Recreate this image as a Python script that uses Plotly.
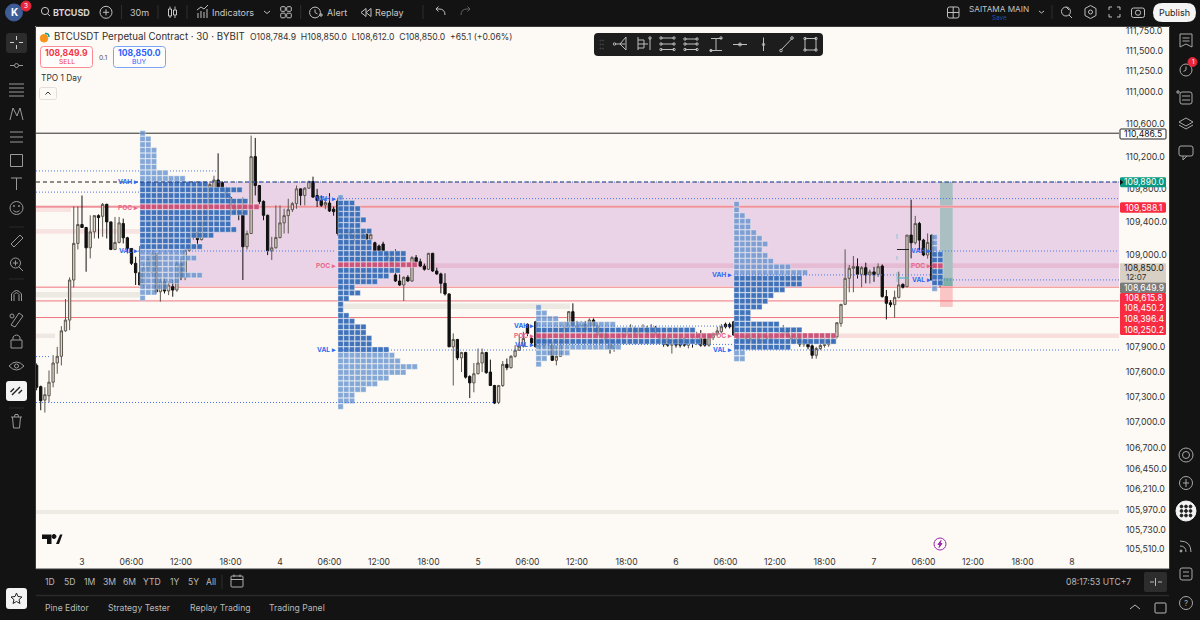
import math
from datetime import datetime, timedelta
import plotly.graph_objects as go

# ---------------- data ----------------
bar_start = datetime(2025, 7, 2, 18, 30)
opens = [
 107677,107424,107264,107316,107477,107706,107786,108091,108220,108702,
 109144,109373,109337,109091,109284,109481,109473,109618,109405,109071,
 109156,109385,109212,109083,108903,108790,108642,108850,108790,109020,
 108560,108680,108570,108622,108581,108900,108730,109060,109220,109280,
 109190,109400,109600,109807,109915,109883,109807,109700,109600,109540,
 109525,109104,109264,110200,109847,109654,109485,109055,109091,109216,
 109393,109481,109553,109626,109807,109726,109815,109895,109726,109666,
 109610,109634,109560,109658,109265,109230,109280,109240,109220,109270,
 109257,109196,109152,109112,109136,109030,108960,108763,108690,108642,
 108735,108690,108972,108923,108871,108831,109024,108811,108775,108662,
 108534,107899,107987,107767,107831,107545,107469,107578,107706,107831,
 107598,107437,107236,107437,107690,107650,107786,107859,107907,108168,
 107999,108200,107899,108010,107920,107920,107738,107786,107960,108130,
 108321,108150,108120,108170,108110,108220,108148,108040,108060,107990,
 107880,107960,108020,108060,108090,108110,108060,108090,108120,108060,
 108130,108050,108000,107999,107919,107980,107999,107999,107919,107990,
 107960,107999,107999,107919,108010,108050,108080,108170,108168,108200,
 108040,107990,108030,108000,107980,108020,107990,108030,108000,107980,
 108020,108040,108090,108030,107990,108010,107930,107980,107911,107798,
 107879,107915,107925,107960,108019,108180,108409,108722,108843,108863,
 108771,108851,108763,108800,108770,108871,108502,108429,108405,108493,
 108650,108622,109245,109152,109385,109184,109004,109245,108702,108784.9]
highs = [
 107700,107436,107416,107617,107800,107898,108147,108473,108734,109594,
 109594,109726,109345,109485,109485,109497,109634,109626,109405,109465,
 109465,109445,109224,109083,108983,109112,108900,109000,109060,109020,
 108730,108720,108690,108702,108930,108960,109100,109240,109300,109300,
 109420,109620,109880,109967,110240,109900,109830,109720,109650,109560,
 109700,109300,110457,110429,109847,109666,109493,109224,109606,109606,
 109565,109686,109646,109847,109807,109827,109907,109955,109807,109726,
 109700,109754,109590,109700,109330,109320,109340,109300,109300,109290,
 109270,109270,109165,109130,109165,109040,109030,109072,108770,108745,
 108760,108990,109004,108960,108900,109030,109030,108850,108790,108783,
 108540,108060,107995,107840,107840,107560,107706,107879,107879,107840,
 107746,107445,107445,107730,107760,107800,107919,108040,108080,108180,
 108020,108210,108050,108100,108050,107960,107900,108000,108200,108330,
 108421,108210,108210,108210,108240,108240,108170,108100,108110,108050,
 108000,108060,108100,108130,108170,108140,108130,108170,108150,108170,
 108150,108100,108070,108040,108010,108010,108020,108020,108020,108020,
 108080,108100,108030,108040,108070,108140,108172,108190,108190,108210,
 108090,108060,108070,108060,108050,108070,108060,108080,108060,108050,
 108080,108160,108120,108070,108050,108040,108000,108000,107930,107900,
 108000,108000,108000,108010,108190,108409,109072,108883,108992,108963,
 108870,108911,108830,108860,108903,108890,108582,108460,108574,108803,
 108660,109245,109675,109478,109405,109200,109265,109250,108900,108850]
lows = [
 107380,107143,107115,107236,107416,107577,107677,108079,108099,108613,
 109071,109333,108802,108963,109204,109204,109224,109204,109063,109063,
 109144,109144,109023,108883,108642,108640,108600,108780,108740,108540,
 108441,108540,108520,108501,108560,108700,108700,109040,109190,109130,
 109180,109380,109580,109780,109807,109780,109640,109480,109490,109425,
 108702,109070,109264,109726,109620,109425,109003,108943,109083,109204,
 109264,109264,109525,109565,109606,109606,109807,109698,109586,109586,
 109560,109525,109480,109240,109200,109170,109200,109170,109190,109200,
 109190,109190,109050,109050,109050,108950,108880,108680,108630,108449,
 108680,108680,108915,108860,108815,108825,108800,108765,108542,108515,
 107899,107437,107740,107598,107520,107288,107357,107570,107598,107578,
 107437,107216,107216,107420,107620,107640,107770,107850,107890,108030,
 107930,107890,107860,107880,107800,107730,107678,107780,107940,108120,
 108130,108080,108040,108050,108090,108080,108020,107990,107960,107818,
 107840,107920,107980,108030,108060,108040,108020,108060,108040,108040,
 108020,108000,107900,107900,107818,107890,107890,107900,107880,107890,
 107920,107900,107900,107900,107980,108030,108060,108120,108120,108030,
 107960,107940,107970,107950,107930,107970,107950,107980,107960,107950,
 107970,108000,108010,107970,107950,107899,107899,107870,107758,107758,
 107860,107890,107900,107935,108000,108140,108400,108554,108554,108720,
 108614,108662,108660,108680,108740,108490,108228,108375,108248,108481,
 108600,108614,108963,109130,109064,108990,108960,108700,108650,108612]
closes = [
 107416,107256,107328,107477,107706,107786,108091,108220,108702,109144,
 109373,109337,109091,109284,109481,109457,109618,109405,109071,109156,
 109393,109212,109083,108903,108790,108642,108850,108950,109020,108560,
 108680,108570,108640,108581,108900,108730,109060,109220,109280,109190,
 109400,109600,109860,109915,109827,109807,109700,109600,109540,109500,
 109104,109264,110200,109847,109654,109485,109055,109091,109216,109393,
 109481,109553,109626,109807,109726,109815,109895,109706,109666,109606,
 109640,109537,109530,109265,109230,109280,109240,109220,109270,109230,
 109196,109250,109056,109056,109056,108960,108900,108690,108642,108735,
 108690,108972,108923,108871,108831,109024,108811,108775,108662,108534,
 107899,107987,107767,107831,107537,107469,107578,107706,107831,107590,
 107437,107228,107437,107690,107650,107786,107859,107907,108000,108060,
 107947,107899,108010,107920,107970,107738,107786,107960,108130,108321,
 108150,108120,108170,108100,108220,108148,108040,108060,107990,107880,
 107960,108020,108060,108090,108110,108060,108090,108120,108060,108130,
 108050,108000,107930,107919,107980,107920,107919,107919,107990,107960,
 108030,107919,107919,108010,108050,108090,108140,108140,108140,108040,
 107990,108030,108000,107980,108020,107990,108030,108000,107980,108020,
 108040,108090,108030,107990,108010,107930,107980,107900,107798,107879,
 107915,107925,107960,107990,108188,108409,108722,108843,108863,108771,
 108851,108763,108800,108770,108863,108502,108421,108405,108493,108642,
 108614,109245,109152,109385,109184,109004,109156,108702,108785,108850]

tpo1_start = "2025-07-03 07:00"
tpo1_prices = [110485,110416,110347,110278,110209,110140,110071,110002,109933,109864,109795,109726,109657,109588,109519,109450,109381,109312,109243,109174,109105,109036,108967,108898,108829,108760,108691,108622,108553,108484]
tpo1_counts = [1,2,2,3,3,3,3,5,8,12,18,16,19,21,19,16,16,17,13,9,11,8,10,8,8,11,7,5,3,1]
tpo2_start = "2025-07-04 07:00"
tpo2_prices = [109702,109634,109566,109498,109430,109362,109294,109226,109158,109090,109022,108954,108886,108818,108750,108682,108614,108546,108478,108410,108342,108274,108206,108138,108070,108002,107934,107866,107798,107730,107662,107594,107526,107458,107390,107322,107254,107186]
tpo2_counts = [1,3,4,4,5,4,6,5,6,6,12,12,14,11,9,7,3,4,2,1,1,2,3,5,5,6,6,9,10,11,14,12,9,7,5,3,3,1]
tpo3_start = "2025-07-05 07:00"
tpo3_prices = [108372,108304,108236,108168,108100,108032,107964,107896,107828,107760,107692]
tpo3_counts = [1,2,4,14,28,31,29,15,6,2,1]
tpo4_start = "2025-07-06 07:00"
tpo4_prices = [109620,109551,109482,109413,109344,109275,109206,109137,109068,108999,108930,108861,108792,108723,108654,108585,108516,108447,108378,108309,108240,108171,108102,108033,107964,107895,107826,107757]
tpo4_counts = [1,1,2,3,3,4,5,6,5,6,7,10,13,12,12,9,7,6,5,3,3,8,12,18,18,10,2,2]
tpo5_start = "2025-07-07 07:00"
tpo5_prices = [109219,109150,109081,109012,108943,108874,108805,108736,108667,108598]
tpo5_counts = [1,1,1,2,2,2,2,2,2,1]

price_ticks = [111750,111500,111250,111000,110600,110200,109800,109400,109000,107900,107600,107300,107000,106700,106450,106210,105970,105730,105510]
time_ticks = ["2025-07-03 00:00","2025-07-03 06:00","2025-07-03 12:00","2025-07-03 18:00","2025-07-04 00:00","2025-07-04 06:00","2025-07-04 12:00","2025-07-04 18:00","2025-07-05 00:00","2025-07-05 06:00","2025-07-05 12:00","2025-07-05 18:00","2025-07-06 00:00","2025-07-06 06:00","2025-07-06 12:00","2025-07-06 18:00","2025-07-07 00:00","2025-07-07 06:00","2025-07-07 12:00","2025-07-07 18:00","2025-07-08 00:00"]
time_labels = ["3","06:00","12:00","18:00","4","06:00","12:00","18:00","5","06:00","12:00","18:00","6","06:00","12:00","18:00","7","06:00","12:00","18:00","8"]

level_high = 110486.5
level_zone_top = 109890.0
level_zone_bottom = 108630.0
level_poc_a = 109588.1
level_red = [108615.8, 108450.2, 108250.2]

# ---------------- geometry ----------------
W, H = 1200, 620
L, R, T, B = 36, 1119, 27, 552
CREAM = "#fdfaf5"; CHROME = "#131313"
FONT = "Inter"
def px(x): return (x - L) / (R - L)
def py(y): return 1 - (y - T) / (B - T)
shapes, notes = [], []
times = [bar_start + timedelta(minutes=30 * i) for i in range(len(opens))]

def rect(x0, y0, x1, y1, fill, line=None, lw=1, layer="above"):
    shapes.append(dict(type="rect", xref="paper", yref="paper", x0=px(x0), x1=px(x1), y0=py(y0), y1=py(y1),
                       fillcolor=fill, line=dict(color=line or "rgba(0,0,0,0)", width=lw if line else 0), layer=layer))
def path(d, color="#b8b8b8", lw=1, fill=None, layer="above"):
    out = []
    for tok in d:
        if isinstance(tok, str): out.append(tok)
        else: out.append(f"{px(tok[0]):.5f},{py(tok[1]):.5f}")
    shapes.append(dict(type="path", xref="paper", yref="paper", path=" ".join(out),
                       line=dict(color=color, width=lw), fillcolor=fill or "rgba(0,0,0,0)", layer=layer))
def seg(x0, y0, x1, y1, color="#b8b8b8", lw=1):
    shapes.append(dict(type="line", xref="paper", yref="paper", x0=px(x0), x1=px(x1), y0=py(y0), y1=py(y1),
                       line=dict(color=color, width=lw), layer="above"))
def circ(cx, cy, r, line="#b8b8b8", fill=None, lw=1):
    shapes.append(dict(type="circle", xref="paper", yref="paper", x0=px(cx-r), x1=px(cx+r), y0=py(cy-r), y1=py(cy+r),
                       line=dict(color=line, width=lw), fillcolor=fill or "rgba(0,0,0,0)", layer="above"))
def rrect(x0, y0, x1, y1, r, fill=None, line=None, lw=1):
    d = ["M",(x0+r,y0),"L",(x1-r,y0),"Q",(x1,y0),(x1,y0+r),"L",(x1,y1-r),"Q",(x1,y1),(x1-r,y1),
         "L",(x0+r,y1),"Q",(x0,y1),(x0,y1-r),"L",(x0,y0+r),"Q",(x0,y0),(x0+r,y0),"Z"]
    path(d, color=line or "rgba(0,0,0,0)", lw=lw if line else 0, fill=fill)
def txt(x, y, s, size=9, color="#c8c8c8", anchor="center", bold=False, font=FONT):
    notes.append(dict(xref="paper", yref="paper", x=px(x), y=py(y), text=f"<b>{s}</b>" if bold else s, showarrow=False,
                      xanchor=anchor, yanchor="middle", font=dict(size=size, color=color, family=font), borderpad=0, borderwidth=0))

# level helpers (prices through the y axis)
def band(x0, x1, p0, p1, fill, layer="below"):
    shapes.append(dict(type="rect", xref="paper", yref="y", x0=px(x0), x1=px(x1), y0=p0, y1=p1,
                       fillcolor=fill, line=dict(width=0), layer=layer))
def level(x0, x1, p, color, lw=1, dash="solid", layer="below"):
    shapes.append(dict(type="line", xref="paper", yref="y", x0=px(x0), x1=px(x1), y0=p, y1=p,
                       line=dict(color=color, width=lw, dash=dash), layer=layer))

band(140, R, level_zone_bottom, level_zone_top, "#ead3e6")
band(418, R, 108847, 108903, "#e6bcd4")
band(36, 71, 109525, 109585, "#f8e3e1")
band(36, 180, 109261, 109318, "#f7e4e2")
band(36, 140, 108492, 108558, "#ece9e3")
band(36, 55, 108005, 108058, "#efe8e2")
band(343, 570, 108353, 108420, "#ece9e3")
band(838, R, 108005, 108058, "#f8dfdd")
band(940, 952.7, 108730, level_zone_top, "#a9bfc2")
band(940, 952.7, level_zone_bottom, 108730, "#7eb0a8")
band(940, 952.7, 108378, level_zone_bottom, "#f9c5c5")
band(36, R, 105916, 105963, "#eeebe5")

level(36, R, level_high, "#2b2b2b", 1)
level(36, R, level_poc_a, "#f3bcc0", 2.4)
level(36, R, level_poc_a, "#ef7f88", 1)
for p in level_red:
    level(36, R, p, "#f0747e", 1)
BL = "#4a78ea"
level(36, 140, level_zone_top, "#1e1e1e", 1, "4px,3px", "above")
level(140, R, level_zone_top, "#1f2f58", 1, "4px,3px", "above")
for x0, x1, p in [(36,140,110025),(170,216,110025),(36,140,109767),(140,R,109890),(334,R,109688),(123,336,109052),
                  (930,R,109052),(734,932,108763),(932,R,108703),(340,536,107861),(734,R,107861),(36,495,107235),
                  (536,735,108148),(536,735,107928),(36,49,107783)]:
    level(x0, x1, p, BL, 1, "1px,2px", "above")

fig = go.Figure()
fig.add_trace(go.Candlestick(x=times, open=opens, high=highs, low=lows, close=closes,
    increasing=dict(line=dict(color="#5c574f", width=1), fillcolor="#ddd6ca"),
    decreasing=dict(line=dict(color="#111111", width=1), fillcolor="#111111"),
    whiskerwidth=0, showlegend=False, hoverinfo="skip"))

DARK = "rgba(58,110,186,0.97)"; LIGHT = "rgba(100,146,208,0.8)"; POC = "rgba(202,80,120,0.97)"
CELL_MIN = 41.45
def tpo(start, prices, counts, d0, d1, poc):
    t0 = datetime.strptime(start, "%Y-%m-%d %H:%M")
    xs, ys, cs = [], [], []
    for i, (p, c) in enumerate(zip(prices, counts)):
        col = POC if i == poc else (DARK if d0 <= i <= d1 else LIGHT)
        for k in range(c):
            xs.append(t0 + timedelta(minutes=CELL_MIN * (k + 0.5))); ys.append(p); cs.append(col)
    fig.add_trace(go.Scatter(x=xs, y=ys, mode="markers", showlegend=False, hoverinfo="skip",
                             marker=dict(symbol="square", size=5.3, color=cs, line=dict(width=0.5, color="rgba(253,250,245,0.8)"))))
tpo(tpo1_start, tpo1_prices, tpo1_counts, 9, 20, 13)
tpo(tpo2_start, tpo2_prices, tpo2_counts, 1, 27, 12)
tpo(tpo3_start, tpo3_prices, tpo3_counts, 4, 6, 5)
tpo(tpo4_start, tpo4_prices, tpo4_counts, 13, 25, 23)
tpo(tpo5_start, tpo5_prices, tpo5_counts, 3, 8, 5)

# TPO labels
VB = "#2f6bf0"; VP = "#e8688a"
for x, y, s, c in [(138,182.5,"VAH ▸",VB),(138,208.5,"POC ▸",VP),(138,251,"VAL ▸",VB),
                   (336,199,"VAH ▸",VB),(336,265.7,"POC ▸",VP),(336,350,"VAL ▸",VB),
                   (534,326,"VAH ▸",VB),(534,335.7,"POC ▸",VP),(534,344.5,"VAL ▸",VB),
                   (732,274.5,"VAH ▸",VB),(732,335.7,"POC ▸",VP),(732,350,"VAL ▸",VB),
                   (931,251,"VAH ▸",VB),(931,265.7,"POC ▸",VP),(931,280,"VAL ▸",VB)]:
    txt(x, y, s, 6.6, c, "right", True)

# small drawing marks near the last bars
seg(897, 249.5, 909, 249.5, "#222222", 1)
seg(897, 278, 909, 278, "#4fb7c4", 1.2)
seg(897, 234, 897, 239, "#8fc4d0", 1); seg(897, 256, 897, 260, "#8fc4d0", 1); seg(897, 272, 897, 282, "#8fc4d0", 1)

# ---------------- application frame ----------------
rect(0, 0, W, 26, CHROME); rect(0, 0, 35, H, CHROME); rect(1169.5, 0, W, H, CHROME)
rect(0, 569, W, H, CHROME)
seg(36, 595.5, 1169, 595.5, "#2a2a2a", 1.4)
seg(35.5, 26.5, 35.5, 569, "#3a3a3a", 1); seg(36, 26.5, 1169, 26.5, "#3a3a3a", 1); seg(36, 569, 1169, 569, "#3a3a3a", 1); seg(1169.5, 26.5, 1169.5, 569, "#3a3a3a", 1)

# top bar
circ(14, 12.5, 8.5, line="#3e5c96", fill="#3e5c96"); txt(14, 12.5, "K", 10, "#ffffff", bold=True)
circ(26, 6, 5, line="#e8263a", fill="#e8263a"); txt(26, 6, "3", 6.5, "#ffffff")
circ(45, 11, 3.6, line="#c8c8c8"); seg(47.6, 13.7, 50, 16, "#c8c8c8")
txt(53, 12.3, "BTCUSD", 9, "#d6d6d6", "left", True)
circ(106, 12.3, 6, line="#c0c0c0"); seg(103, 12.3, 109, 12.3, "#c0c0c0"); seg(106, 9.3, 106, 15.3, "#c0c0c0")
for x in (121.5, 158, 187, 300.7, 423, 1052):
    seg(x, 5, x, 19, "#2e2e2e", 1)
txt(139.7, 12.5, "30m", 9, "#c8c8c8")
for x, y0, y1 in [(170, 9, 16), (175, 10, 15)]:
    rect(x-1.5, y0, x+1.5, y1, "rgba(0,0,0,0)", "#c8c8c8"); seg(x, 6.5, x, y0); seg(x, y1, x, 18)
path(["M",(198,18),"L",(198,13),"M",(201,18),"L",(201,11),"M",(204,18),"L",(204,12),"M",(207,18),"L",(207,9),"M",(197,10),"L",(201,7),"L",(204,9),"L",(208,5)], "#c0c0c0")
txt(233, 12.5, "Indicators", 9, "#c8c8c8")
path(["M",(264,11),"L",(267,13.5),"L",(270,11)], "#c0c0c0")
for cx, cy in [(283,9),(289,9),(283,15.5),(289,15.5)]:
    rrect(cx-2.3, cy-2.3, cx+2.3, cy+2.3, 1, line="#c0c0c0")
circ(315, 12.5, 5.4, line="#c0c0c0"); path(["M",(315,9.5),"L",(315,12.5),"L",(317.5,14)], "#c0c0c0"); seg(319,15,323,15,"#c0c0c0"); seg(321,13,321,17,"#c0c0c0")
txt(337, 12.5, "Alert", 9, "#c8c8c8")
path(["M",(366,8.5),"L",(361,12.5),"L",(366,16.5),"Z","M",(371,8.5),"L",(366,12.5),"L",(371,16.5),"Z"], "#c0c0c0")
txt(389, 12.5, "Replay", 9, "#c8c8c8")
path(["M",(445,15),"Q",(445,9),(439,9),"L",(436,9),"M",(438.5,6.5),"L",(436,9),"L",(438.5,11.5)], "#c0c0c0")
path(["M",(461,15),"Q",(461,9),(467,9),"L",(470,9),"M",(467.5,6.5),"L",(470,9),"L",(467.5,11.5)], "#606060")
# top right
rrect(947.5, 7, 959, 18, 2, line="#c0c0c0"); seg(953.2,7,953.2,18,"#c0c0c0"); seg(947.5,12.5,959,12.5,"#c0c0c0")
txt(999, 9.3, "SAITAMA MAIN", 8.2, "#c4c4c4"); txt(999.5, 17.7, "Save", 6.3, "#1f4fb0")
path(["M",(1039,11),"L",(1041.5,13),"L",(1044,11)], "#c0c0c0")
circ(1066, 11.5, 4.5, "#c0c0c0"); seg(1069,15,1072,18,"#c0c0c0"); seg(1066,7,1069,10,"#c0c0c0")
path(["M",(1085,8.5),"L",(1090.5,5.5),"L",(1096,8.5),"L",(1096,15.5),"L",(1090.5,18.5),"L",(1085,15.5),"Z"], "#c0c0c0"); circ(1090.5,12,2,"#c0c0c0")
path(["M",(1109,10),"L",(1109,7),"L",(1112,7),"M",(1117,7),"L",(1120,7),"L",(1120,10),"M",(1120,14),"L",(1120,17),"L",(1117,17),"M",(1112,17),"L",(1109,17),"L",(1109,14)], "#c0c0c0")
rrect(1131.5, 8, 1144.5, 17.5, 2, line="#c0c0c0"); circ(1138, 12.7, 2.6, "#c0c0c0")
rrect(1153, 3, 1196, 22, 9.5, fill="#f4f4f4"); txt(1174.5, 12.5, "Publish", 9, "#1a1a1a")

# left toolbar
rrect(6, 33, 27, 53, 3, fill="#2c2c2c")
seg(10,42.5,14,42.5,"#d0d0d0"); seg(19,42.5,23,42.5,"#d0d0d0"); seg(16.5,36,16.5,40,"#d0d0d0"); seg(16.5,45,16.5,49,"#d0d0d0")
seg(10,65.5,14,65.5,"#9a9a9a"); seg(19,65.5,23,65.5,"#9a9a9a"); circ(16.5,65.5,2,"#9a9a9a")
for yy in (84,88,92,96): seg(9,yy,24,yy,"#9a9a9a")
path(["M",(10,120),"L",(13,108),"L",(17,116),"L",(20,108),"L",(23,120)], "#9a9a9a")
for yy in (132,137,142): seg(10,yy,23,yy,"#9a9a9a")
rect(10.5,154.5,22.5,166.5,"rgba(0,0,0,0)","#9a9a9a")
seg(11,178,22,178,"#9a9a9a"); seg(16.5,178,16.5,190,"#9a9a9a")
circ(16.5,208,6.5,"#9a9a9a"); circ(14,206,0.6,"#9a9a9a"); circ(19,206,0.6,"#9a9a9a"); path(["M",(13.5,210.5),"Q",(16.5,213.5),(19.5,210.5)],"#9a9a9a")
seg(9,227,24,227,"#2a2a2a")
path(["M",(11,244),"L",(20,235),"L",(23,238),"L",(14,247),"Z"], "#9a9a9a")
circ(15.5,263,5,"#9a9a9a"); seg(19,267,23,271,"#9a9a9a"); seg(13,263,18,263,"#9a9a9a"); seg(15.5,260.5,15.5,265.5,"#9a9a9a")
seg(9,279,24,279,"#2a2a2a")
path(["M",(11.5,301),"L",(11.5,294),"Q",(16.5,287),(21.5,294),"L",(21.5,301),"M",(14,301),"L",(14,294.5),"Q",(16.5,291),(19,294.5),"L",(19,301)], "#9a9a9a")
path(["M",(11,325),"L",(19,313),"L",(23,316),"L",(15,327),"Z"], "#9a9a9a"); circ(12,316,2,"#9a9a9a")
rect(11,340,22,348,"rgba(0,0,0,0)","#9a9a9a"); path(["M",(13,340),"L",(13,337),"Q",(16.5,333),(20,337),"L",(20,340)], "#9a9a9a")
path(["M",(9,366),"Q",(16.5,358),(24,366),"Q",(16.5,374),(9,366),"Z"], "#9a9a9a"); circ(16.5,366,2,"#9a9a9a")
rrect(6, 381, 27, 401, 3, fill="#f4f4f4")
path(["M",(12,395),"L",(20,387),"M",(10.5,392),"L",(14,388.5),"M",(22,390),"L",(18.5,393.5)], "#222222", 1.4)
seg(9,408,24,408,"#2a2a2a")
path(["M",(11,417),"L",(22,417),"M",(12.5,417),"L",(13.5,428),"L",(19.5,428),"L",(20.5,417),"M",(14.5,417),"L",(15,414.5),"L",(18,414.5),"L",(18.5,417)], "#9a9a9a")
rrect(6, 588, 27, 609, 3, fill="#f4f4f4")
path(["M",(16.5,593),"L",(18,596.5),"L",(22,597),"L",(19,599.7),"L",(20,603.5),"L",(16.5,601.5),"L",(13,603.5),"L",(14,599.7),"L",(11,597),"L",(15,596.5),"Z"], "#222222")

# right toolbar
path(["M",(1180,34),"L",(1192,34),"L",(1192,47),"L",(1186,44),"L",(1180,47),"Z","M",(1182.5,38),"L",(1189.5,38),"M",(1182.5,41),"L",(1189.5,41)], "#a8a8a8")
circ(1186,70,6,"#a8a8a8"); path(["M",(1186,66.5),"L",(1186,70),"L",(1183.5,71.5)],"#a8a8a8")
circ(1192.5,62,4.5,"#e8263a","#e8263a"); txt(1192.5,62,"1",6,"#ffffff")
rrect(1180,92,1192,104,2,line="#a8a8a8"); seg(1182,96,1190,96,"#a8a8a8"); seg(1182,100,1190,100,"#a8a8a8"); seg(1176,92,1180,92,"#a8a8a8"); seg(1178,90,1178,94,"#a8a8a8")
path(["M",(1186,118),"L",(1193,122),"L",(1186,126),"L",(1179,122),"Z","M",(1179,125),"L",(1186,129),"L",(1193,125)],"#a8a8a8")
rrect(1179,146,1193,156,2,line="#a8a8a8"); path(["M",(1183,156),"L",(1183,160),"L",(1187,156)],"#a8a8a8")
circ(1186,455,7,"#a8a8a8"); circ(1186,455,3.5,"#a8a8a8")
circ(1186,483,6.5,"#a8a8a8"); seg(1186,479,1186,487,"#a8a8a8"); seg(1183,483,1189,483,"#a8a8a8")
circ(1186,511,10,"#f4f4f4","#f4f4f4")
for cx in (1181.5,1186,1190.5):
    for cy in (506.5,511,515.5):
        circ(cx,cy,1.4,"#222222","#222222")
path(["M",(1180,541),"Q",(1191,541),(1191,552),"M",(1180,546),"Q",(1186,546),(1186,552)],"#a8a8a8"); circ(1181,551,1,"#a8a8a8","#a8a8a8")
rrect(1180,568,1192,580,2,line="#a8a8a8"); seg(1183,572,1189,572,"#a8a8a8"); seg(1183,576,1189,576,"#a8a8a8")
circ(1186,603,6.5,"#a8a8a8"); txt(1186,603,"?",8,"#a8a8a8")

# header inside chart
circ(44,38.3,3.8,"#f7931a","#f7931a"); path(["M",(45,33.5),"Q",(49,33),(49,37)],"#0e9a8a",1.5)
txt(54,36.3,"BTCUSDT Perpetual Contract · 30 · BYBIT",9.7,"#2f2f2f","left")
notes.append(dict(xref="paper",yref="paper",x=px(248),y=py(36.7),showarrow=False,xanchor="left",yanchor="middle",
    text="O108,784.9  H108,850.0  L108,612.0  C108,850.0  +65.1 (+0.06%)",font=dict(size=8.6,color="#333333",family=FONT)))
rrect(40.5,46.5,92.5,67.5,3,fill="#fffdfb",line="#fb8a94"); txt(66.5,53.5,"108,849.9",8.6,"#f23645",bold=True); txt(66.5,62,"SELL",6.8,"#f23645")
txt(103,57,"0.1",6.8,"#555555")
rrect(113.5,46.5,165.5,67.5,3,fill="#fffdfb",line="#7aa5f5"); txt(139.5,53,"108,850.0",8.6,"#2962ff",bold=True); txt(139.5,62,"BUY",6.8,"#2962ff")
txt(41,77.7,"TPO 1 Day",8.4,"#333333","left")
rrect(39.5,87.5,56.5,99.5,2,fill="#fdfaf5",line="#e2ded8"); path(["M",(45.5,94.5),"L",(48,92),"L",(50.5,94.5)],"#333333")

# floating drawing toolbar
rrect(594,33,823,56,4,fill="#1d1d1d")
G = "#bdbdbd"
for xx in (600.5,603):
    for yy in (40.5,44.5,48.5): circ(xx,yy,0.5,"#4a4a4a")
path(["M",(615,44),"L",(625,44),"M",(626,37),"L",(626,50),"L",(620,44),"Z"],G); circ(614.5,44,1.2,G)
seg(638,37,638,50,G); path(["M",(638,40),"L",(644,40),"L",(644,48),"L",(638,48),"M",(638,44),"L",(648,44)],G); seg(650,38,650,50,G); circ(650,38,1.2,G)
for yy,xa,xb in [(38,661,674),(44,661,674),(49.5,661,674)]:
    seg(xa,yy,xb,yy,G); circ(xa,yy,1.2,G); circ(xb,yy,1.2,G)
for yy,xa,xb in [(39,685,697),(44,685,697),(49.5,685,697)]:
    seg(xa,yy,xb,yy,G); circ(xa,yy,1.2,G); circ(xb,yy,1.2,G)
seg(711,38.5,722,38.5,G); seg(710,50.5,722,50.5,G); seg(716,38.5,716,50.5,G); circ(721,38,1.2,G); circ(711,50.5,1.2,G)
seg(733,44.5,747,44.5,G); circ(740,44.5,1.5,G)
seg(763.5,37.5,763.5,51,G); circ(763.5,44.5,1.2,G)
seg(781,50,792,38.5,G); circ(781,50.5,1.3,G); circ(792,38,1.3,G)
rect(805,38.5,816,50,"rgba(0,0,0,0)",G); [circ(a,b,1.2,G) for a in (805,816) for b in (38.5,50)]

# price tags
def tag(y0, y1, fill, s, color="#ffffff"):
    rrect(1120, y0, 1166, y1, 1.5, fill=fill)
    txt(1143.5, (y0+y1)/2, s, 8.6, color)
rrect(1120, 129, 1166, 139, 1, fill="#ffffff", line="#222222"); txt(1143.3, 134, "110,486.5", 8.6, "#111111")
tag(177.3, 187.3, "#089981", "109,890.0")
path(["M",(1120,179.5),"L",(1123.5,182.3),"L",(1120,185),"Z"],"#111111",0,"#111111")
tag(202.3, 212.7, "#f92b41", "109,588.1")
rrect(1120, 263.3, 1166, 282.5, 1, fill="#d8d0c4"); txt(1143.5, 268, "108,850.0", 8.6, "#222222"); txt(1136, 277, "12:07", 8.2, "#333333")
rrect(1120, 282.5, 1166, 293, 1, fill="#7d7b78"); txt(1143.5, 287.6, "108,649.9", 8.6, "#ffffff")
rrect(1120, 293, 1166, 335, 1.5, fill="#f92b41")
for yy, s in [(298.3,"108,615.8"),(308.3,"108,450.2"),(319,"108,396.4"),(330,"108,250.2")]:
    txt(1143.5, yy, s, 8.6, "#ffffff")

# TV logo & lightning
path(["M",(42,534.5),"L",(51.5,534.5),"L",(51.5,544),"L",(47,544),"L",(47,539),"L",(42,539),"Z"],"#111111",0,"#111111")
circ(54,536.5,2,"#111111","#111111")
path(["M",(56,544),"L",(60,534.5),"L",(62.5,534.5),"L",(59,544),"Z"],"#111111",0,"#111111")
circ(940,544,6,"#9c27b0"); path(["M",(941,540.5),"L",(938,544.5),"L",(940,544.5),"L",(939,547.5),"L",(942,543.5),"L",(940,543.5),"Z"],"#9c27b0",1,"#9c27b0")

# bottom bars
for x, s in [(50,"1D"),(69,"5D"),(89,"1M"),(109,"3M"),(129.5,"6M"),(152,"YTD"),(174,"1Y"),(193,"5Y"),(211,"All")]:
    txt(x, 582.3, s, 8.6, "#b9b9b9")
seg(222,575,222,589,"#2e2e2e")
rrect(231,576,243,587,1,line="#b0b0b0"); seg(231,579.5,243,579.5,"#b0b0b0"); seg(234,574.5,234,577,"#b0b0b0"); seg(240,574.5,240,577,"#b0b0b0")
txt(1098,582.3,"08:17:53 UTC+7",8.6,"#b9b9b9")
rrect(1144,572,1167,592,2,fill="#2d2d2d"); path(["M",(1150,582),"L",(1154,582),"M",(1158,582),"L",(1162,582),"M",(1155.5,578),"L",(1155.5,586)],"#b9b9b9")
for x, s in [(67,"Pine Editor"),(139,"Strategy Tester"),(220,"Replay Trading"),(297,"Trading Panel")]:
    txt(x, 608, s, 8.6, "#b9b9b9")
path(["M",(1130,609),"L",(1135,605),"L",(1140,609)],"#b9b9b9"); rrect(1155,603,1166,613,1,line="#b9b9b9")

fig.update_layout(
    width=W, height=H, margin=dict(l=L, r=W-R, t=T, b=H-B, pad=0), autosize=False,
    paper_bgcolor=CREAM, plot_bgcolor=CREAM, showlegend=False, hovermode=False,
    font=dict(family=FONT, color="#333333"),
    shapes=shapes, annotations=notes,
    xaxis=dict(type="date", range=["2025-07-02 18:25:30", "2025-07-08 05:41:49"], rangeslider=dict(visible=False),
               tickmode="array", tickvals=time_ticks, ticktext=time_labels, showgrid=False, zeroline=False,
               showline=False, ticks="outside", ticklen=2, tickcolor="rgba(0,0,0,0)", tickangle=0,
               tickfont=dict(size=8.6, color="#333333", family=FONT)),
    yaxis=dict(type="log", side="right",
               range=[math.log10(105510) - 3.3/20757, math.log10(111750) + 3.7/20757],
               tickmode="array", tickvals=price_ticks, ticktext=[f"{v:,.1f}" for v in price_ticks],
               showgrid=False, zeroline=False, showline=False, ticks="outside", ticklen=4, tickcolor="rgba(0,0,0,0)",
               tickfont=dict(size=8.8, color="#333333", family=FONT)),
    boxgap=0.2,
)
fig.write_html("out.html", config=dict(displayModeBar=False),
               post_script="document.body.style.margin='0';document.documentElement.style.overflow='hidden';")
